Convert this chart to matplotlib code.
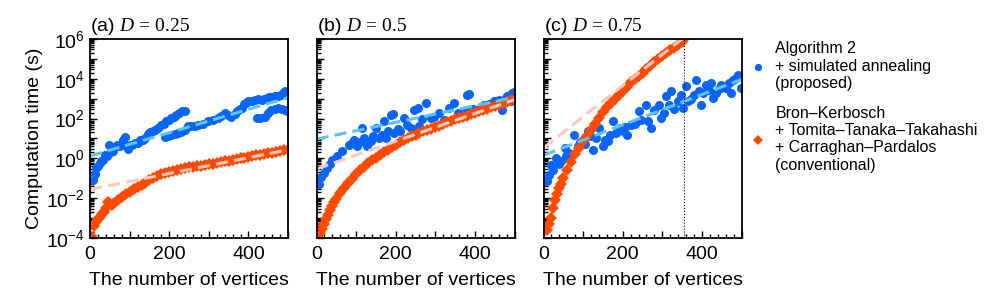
import numpy as np
import matplotlib
matplotlib.use("Agg")
import matplotlib.pyplot as plt
from matplotlib.ticker import MultipleLocator, LogLocator, FuncFormatter, NullFormatter

plt.rcParams['font.family'] = ['Liberation Sans', 'DejaVu Sans']
plt.rcParams['mathtext.fontset'] = 'custom'
plt.rcParams['mathtext.rm'] = 'Liberation Serif'
plt.rcParams['mathtext.it'] = 'Liberation Serif:italic'

# ---- data (log10 of computation time in seconds) ----
# panel (a) D = 0.25
a_sa_n = [8, 12, 16, 20, 24, 28, 33, 37, 42, 47, 52, 58, 63, 68, 75, 83, 89, 95, 101, 107,
          114, 121, 127, 133, 140, 146, 151, 158, 165, 172, 180, 186, 193, 199, 205, 211, 218, 225, 231, 239,
          190, 197, 205, 214, 222, 230, 239, 247, 256, 265, 273, 285, 298, 310, 323, 331, 340, 348, 357, 365,
          372, 378, 383, 390, 395, 400, 408, 416, 425, 433, 440, 446, 453, 460, 467, 474, 481, 487, 493,
          421, 430, 442, 450, 458, 467, 475, 484, 492, 498]
a_sa_t = [-1.1, -0.8, -0.5, -0.4, -0.23, -0.15, -0.06, 0.19, 0.1, 0.69, 0.3, 0.36, 0.55, 0.69, 0.6, 0.94, 1.08, 0.49, 0.65, 0.69,
          0.75, 0.77, 0.9, 0.94, 1.0, 1.24, 1.32, 1.4, 1.45, 1.53, 1.69, 1.75, 1.86, 1.95, 2.03, 2.1, 2.2, 2.3, 2.37, 2.4,
          1.05, 1.11, 1.19, 1.22, 1.28, 1.35, 1.45, 1.61, 1.62, 1.65, 1.69, 1.75, 1.86, 1.95, 2.03, 2.15, 2.28, 2.2, 2.1, 2.25,
          2.4, 2.5, 2.53, 2.75, 2.8, 2.87, 2.9, 2.95, 2.97, 2.95, 3.0, 3.04, 3.08, 3.1, 3.12, 3.15, 3.2, 3.28, 3.37,
          2.03, 2.05, 2.1, 2.3, 2.45, 2.5, 2.53, 2.5, 2.42, 2.38]
a_bk_n = [5, 10, 15, 20, 25, 30, 35, 40, 45, 50, 55, 60, 70, 80, 90, 100, 110, 120, 130, 140,
          150, 160, 170, 180, 190, 200, 210, 220, 230, 240, 250, 260, 270, 280, 290, 300, 310, 320, 330, 340,
          350, 360, 370, 380, 390, 400, 410, 420, 430, 440, 450, 460, 470, 480, 490, 500]
a_bk_t = [-3.95, -3.4, -3.2, -3.05, -2.95, -2.8, -2.7, -2.5, -2.2, -2.3, -2.35, -2.25, -2.1, -1.92, -1.8, -1.7, -1.55, -1.45, -1.35, -1.22,
          -1.1, -0.98, -0.9, -0.78, -0.72, -0.67, -0.63, -0.58, -0.52, -0.48, -0.45, -0.42, -0.39, -0.36, -0.33, -0.3, -0.26, -0.22, -0.18, -0.14,
          -0.11, -0.07, -0.03, 0.0, 0.04, 0.08, 0.11, 0.15, 0.18, 0.22, 0.25, 0.29, 0.32, 0.36, 0.4, 0.43]

# panel (b) D = 0.5
b_sa_n = [6, 11, 19, 27, 33, 40, 52, 65, 82, 90, 95, 103, 110, 116, 120, 128, 137, 143, 149, 158,
          165, 170, 175, 180, 187, 192, 196, 205, 212, 221, 228, 238, 246, 255, 259, 266, 276, 288, 297, 309,
          322, 334, 347, 351, 358, 364, 372, 380, 386, 385, 395, 406, 415, 423, 435, 448, 455, 461, 469, 476,
          481, 490, 494, 499]
b_sa_t = [-1.3, -0.95, -0.73, -0.48, -0.3, -0.06, 0.1, 0.36, 0.69, 0.75, 0.94, 0.6, 0.8, 1.53, 1.0, 0.6, 0.85, 1.1, 1.53, 1.0,
          1.2, 1.86, 1.0, 1.4, 2.2, 2.25, 1.3, 1.5, 1.4, 2.03, 1.7, 1.53, 2.45, 2.53, 1.61, 2.0, 2.78, 2.03, 2.1, 2.28,
          1.95, 2.53, 2.78, 2.03, 2.3, 2.2, 2.4, 3.2, 3.25, 2.37, 2.5, 2.45, 2.6, 2.7, 2.75, 2.87, 2.8, 2.95, 2.45, 3.0,
          3.12, 2.87, 3.29, 3.35]
b_bk_n = [5, 10, 15, 20, 25, 30, 35, 40, 45, 50, 60, 70, 80, 90, 100, 110, 120, 130, 140, 150,
          160, 170, 180, 190, 200, 210, 220, 230, 240, 250, 260, 270, 280, 290, 300, 310, 320, 330, 340, 350,
          360, 370, 380, 390, 400, 410, 420, 430, 440, 450, 460, 470, 480, 490, 500]
b_bk_t = [-4.0, -3.75, -3.55, -3.3, -3.05, -2.85, -2.6, -2.4, -2.2, -2.05, -1.75, -1.5, -1.25, -1.02, -0.8, -0.6, -0.42, -0.25, -0.1, 0.04,
          0.17, 0.3, 0.42, 0.55, 0.68, 0.8, 0.9, 1.0, 1.1, 1.2, 1.28, 1.36, 1.43, 1.5, 1.57, 1.65, 1.73, 1.81, 1.89, 1.96,
          2.02, 2.08, 2.15, 2.22, 2.29, 2.36, 2.43, 2.5, 2.57, 2.63, 2.7, 2.77, 2.84, 2.92, 3.0]

# panel (c) D = 0.75
c_sa_n = [10, 15, 19, 25, 31, 38, 44, 53, 58, 65, 72, 78, 86, 92, 99, 105, 112, 118, 124, 133,
          141, 149, 155, 162, 168, 175, 183, 192, 200, 206, 212, 221, 230, 242, 246, 259, 263, 271, 280, 292,
          297, 305, 309, 318, 322, 330, 339, 347, 351, 360, 364, 372, 381, 385, 392, 397, 402, 410, 418, 423,
          427, 435, 442, 448, 455, 461, 468, 474, 478, 485, 490, 498]
c_sa_t = [-1.15, -0.82, -0.32, -0.6, 0.02, -0.3, -0.15, 0.52, 0.1, 0.27, 0.2, 1.19, 0.6, 0.8, 0.94, 0.7, 1.36, 1.1, 0.44, 1.0,
          1.53, 0.6, 0.9, 0.85, 1.2, 1.86, 1.28, 1.53, 1.36, 1.6, 1.19, 1.69, 1.75, 2.37, 1.94, 2.7, 1.86, 1.53, 2.45, 2.7,
          2.03, 2.28, 3.12, 2.7, 3.37, 2.5, 2.87, 3.2, 2.53, 3.62, 2.87, 3.0, 3.2, 3.96, 3.4, 2.7, 3.29, 3.7, 3.45, 3.79,
          3.04, 3.29, 3.5, 3.7, 3.6, 3.54, 3.8, 3.29, 3.96, 4.05, 4.21, 3.54]
c_bk_n = [10, 15, 20, 25, 30, 35, 40, 45, 50, 60, 70, 80, 90, 100, 110, 120, 130, 140, 150, 160,
          170, 180, 190, 200, 210, 220, 230, 240, 250, 260, 270, 280, 290, 300, 310, 320, 330, 340, 350, 355]
c_bk_t = [-3.6, -3.3, -3.0, -2.5, -2.1, -1.8, -1.5, -1.3, -1.0, -0.6, -0.2, 0.2, 0.5, 0.85, 1.15, 1.45, 1.75, 2.05, 2.35, 2.6,
          2.8, 3.0, 3.2, 3.4, 3.6, 3.85, 4.0, 4.15, 4.3, 4.5, 4.65, 4.85, 5.0, 5.15, 5.3, 5.45, 5.55, 5.7, 5.85, 6.0]
c_cutoff = 355

# exponential fits: log10(time) at n = 0 and n = 500
fit_n = [0, 500]
fit_sa = [[0.12, 3.05], [0.97, 3.07], [0.16, 3.97]]
fit_bk = [[-1.55, 0.43], [-0.53, 2.95], [0.53, 8.35]]

titles = ["(a) $D\\,{=}\\,0.25$", "(b) $D\\,{=}\\,0.5$", "(c) $D\\,{=}\\,0.75$"]
sa_n = [a_sa_n, b_sa_n, c_sa_n]
sa_t = [a_sa_t, b_sa_t, c_sa_t]
bk_n = [a_bk_n, b_bk_n, c_bk_n]
bk_t = [a_bk_t, b_bk_t, c_bk_t]

blue = "#0a64f5"
orange = "#ff4a00"
lblue = "#5cc4f4"
pink = "#ffc8be"

fig = plt.figure(figsize=(9.96, 3.05), dpi=100)
lefts = [0.0904, 0.3178, 0.5457]
axes = [fig.add_axes([l, 0.2197, 0.1988, 0.6525]) for l in lefts]


def ylab(v, _):
    e = int(round(np.log10(v)))
    if e % 2 == 0:
        return "$\\mathdefault{10^{%d}}$" % e
    return ""


for i, ax in enumerate(axes):
    ax.set_yscale("log")
    ax.plot(sa_n[i], 10 ** np.array(sa_t[i]), "o", ms=6.5, color=blue, mew=0, label="Algorithm 2\n+ simulated annealing\n(proposed)")
    ax.plot(bk_n[i], 10 ** np.array(bk_t[i]), "D", ms=5.8, color=orange, mew=0,
            label="Bron–Kerbosch\n+ Tomita–Tanaka–Takahashi\n+ Carraghan–Pardalos\n(conventional)")
    ax.plot(fit_n, 10 ** np.array(fit_sa[i]), "--", color=lblue, lw=2.2, dashes=(4, 2))
    ax.plot(fit_n, 10 ** np.array(fit_bk[i]), "--", color=pink, lw=2.2, dashes=(4, 2))
    ax.set_xlim(0, 500)
    ax.set_ylim(1e-4, 1e6)
    ax.xaxis.set_major_locator(MultipleLocator(100))
    ax.xaxis.set_minor_locator(MultipleLocator(20))
    ax.xaxis.set_major_formatter(FuncFormatter(lambda v, _: "%d" % v if int(v) % 200 == 0 else ""))
    ax.yaxis.set_major_locator(LogLocator(base=10, numticks=20))
    ax.yaxis.set_minor_locator(LogLocator(base=10, subs=np.arange(2, 10), numticks=20))
    ax.yaxis.set_minor_formatter(NullFormatter())
    if i == 0:
        ax.yaxis.set_major_formatter(FuncFormatter(ylab))
        ax.set_ylabel("Computation time (s)", fontsize=14, labelpad=2)
    else:
        ax.yaxis.set_major_formatter(NullFormatter())
    ax.tick_params(which="both", direction="in", labelsize=14, width=1)
    ax.tick_params(which="major", length=5)
    ax.tick_params(which="minor", length=3)
    ax.tick_params(axis="x", pad=6)
    for s in ax.spines.values():
        s.set_linewidth(1.3)
    ax.set_xlabel("The number of vertices", fontsize=14, labelpad=6)
    ax.set_title(titles[i], loc="left", fontsize=14, pad=6)

axes[2].axvline(c_cutoff, color="black", lw=0.8, ls=":")

axes[2].legend(loc="upper left", bbox_to_anchor=(1.01, 1.02), frameon=False, fontsize=11.5,
               handlelength=1.0, handletextpad=0.6, labelspacing=0.9, borderaxespad=0, markerscale=0.8)

fig.savefig("out.png", dpi=100)
